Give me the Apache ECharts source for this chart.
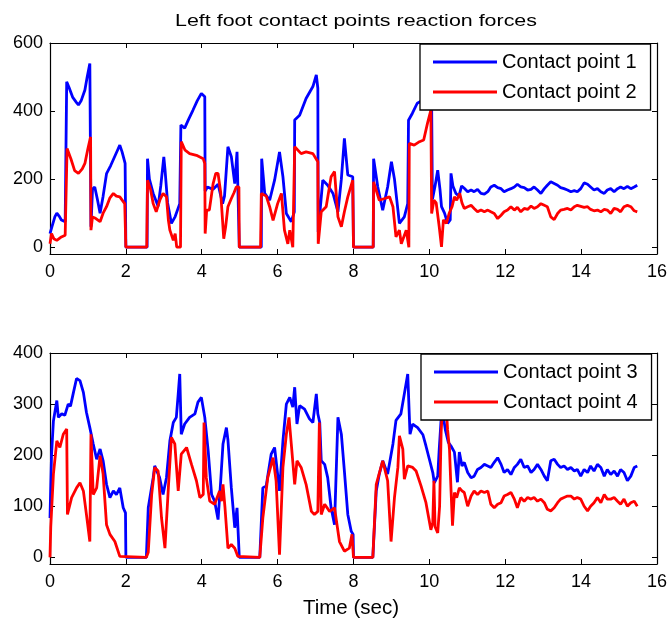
<!DOCTYPE html>
<html>
<head>
<meta charset="utf-8">
<script src="https://cdn.jsdelivr.net/npm/echarts@6/dist/echarts.min.js"></script>
<style>html,body{margin:0;padding:0;background:#fff}#c{width:670px;height:625px}</style>
</head>
<body>
<div id="c"></div>
<script>
// ---- data ----
const xTicks = [0, 2, 4, 6, 8, 10, 12, 14, 16];
const yTicksTop = [0, 200, 400, 600];
const yTicksBottom = [0, 100, 200, 300, 400];

const cp1Head = [[0,40],[0.05,60],[0.13,90],[0.18,100],[0.25,90],[0.3,80],[0.4,75],[0.43,70],[0.44,486],[0.5,470],[0.6,440],[0.7,425],[0.75,418],[0.82,430],[0.92,462],[0.98,500],[1.05,540],[1.07,540],[1.08,60],[1.12,170],[1.18,177],[1.25,140],[1.32,100],[1.4,150],[1.49,216],[1.6,240],[1.7,265],[1.8,290],[1.84,300],[1.9,280],[1.98,246],[2.0,0],[2.56,0],[2.57,260],[2.62,200],[2.72,158],[2.85,120],[2.92,180],[3.0,265],[3.03,230],[3.1,130],[3.2,70],[3.3,90],[3.42,128],[3.44,128],[3.45,359],[3.55,350],[3.65,375],[3.77,403],[3.88,430],[3.99,452],[4.08,442],[4.09,165],[4.15,177],[4.3,170],[4.43,185],[4.55,128],[4.6,150],[4.69,295],[4.78,266],[4.87,187],[4.93,280],[4.98,280],[4.99,0],[5.57,0],[5.58,260],[5.66,158],[5.79,138],[5.92,197],[6.05,280],[6.14,207],[6.23,99],[6.36,75],[6.44,104],[6.45,374],[6.58,388],[6.75,437],[6.93,472],[7.02,506],[7.06,467],[7.07,45],[7.19,197],[7.32,182],[7.46,158],[7.59,104],[7.68,200],[7.76,320],[7.85,212],[7.98,207],[8.0,0],[8.52,0],[8.53,260],[8.64,177],[8.77,109],[8.9,177],[9.0,251],[9.08,200],[9.21,70],[9.34,89],[9.43,128],[9.45,373],[9.55,393],[9.68,423],[9.8,430],[9.95,430],[10.06,420],[10.08,140],[10.15,180],[10.22,226],[10.28,170],[10.32,119],[10.4,100],[10.48,70],[10.55,80],[10.57,217],[10.62,180],[10.7,158],[10.78,150],[10.85,180]];

const cp2Head = [[0,10],[0.04,40],[0.1,25],[0.18,20],[0.3,30],[0.4,35],[0.44,40],[0.45,290],[0.55,260],[0.65,225],[0.75,217],[0.85,230],[0.92,246],[1.0,290],[1.07,324],[1.08,50],[1.12,89],[1.2,85],[1.32,75],[1.4,100],[1.49,119],[1.58,145],[1.67,158],[1.75,150],[1.84,148],[1.97,128],[1.99,128],[2.0,0],[2.55,0],[2.57,197],[2.65,170],[2.72,128],[2.8,104],[2.9,140],[2.98,158],[3.07,148],[3.12,80],[3.16,50],[3.25,20],[3.3,40],[3.34,0],[3.44,0],[3.46,310],[3.56,285],[3.68,275],[3.86,270],[4.04,260],[4.08,246],[4.09,40],[4.13,109],[4.2,109],[4.3,187],[4.37,217],[4.43,217],[4.5,160],[4.58,25],[4.63,60],[4.69,119],[4.78,143],[4.85,160],[4.91,177],[4.98,177],[4.99,0],[5.55,0],[5.57,158],[5.7,150],[5.79,119],[5.88,79],[6.0,128],[6.1,158],[6.18,50],[6.27,10],[6.32,50],[6.4,0],[6.44,0],[6.45,295],[6.62,275],[6.75,280],[6.93,275],[7.06,251],[7.07,10],[7.15,104],[7.28,119],[7.41,207],[7.5,222],[7.59,89],[7.68,60],[7.76,104],[7.85,148],[7.98,197],[8.0,0],[8.52,0],[8.53,192],[8.68,138],[8.82,143],[8.95,148],[9.04,119],[9.12,30],[9.21,50],[9.26,10],[9.39,50],[9.46,0],[9.47,305],[9.6,300],[9.74,310],[9.85,315],[9.95,364],[10.04,403],[10.06,99],[10.12,138],[10.18,130],[10.26,60],[10.32,1],[10.37,80],[10.45,70],[10.52,99],[10.6,120],[10.66,148],[10.72,138],[10.8,158],[10.86,130]];

const cp3Head = [[0,77],[0.04,200],[0.09,267],[0.18,307],[0.22,274],[0.31,281],[0.39,278],[0.48,300],[0.54,296],[0.61,320],[0.7,350],[0.79,346],[0.88,323],[0.96,284],[1.05,254],[1.14,222],[1.23,192],[1.32,212],[1.4,189],[1.49,143],[1.58,117],[1.67,130],[1.75,123],[1.84,136],[1.93,97],[1.99,87],[2.0,0],[2.54,0],[2.59,97],[2.72,156],[2.76,179],[2.89,156],[2.98,123],[3.07,156],[3.16,228],[3.25,264],[3.33,274],[3.38,320],[3.42,359],[3.46,241],[3.55,261],[3.68,274],[3.82,281],[3.9,304],[3.99,313],[4.08,274],[4.17,208],[4.26,123],[4.34,110],[4.43,74],[4.5,150],[4.56,222],[4.65,254],[4.69,230],[4.78,136],[4.87,58],[4.93,97],[4.98,97],[4.99,0],[5.53,0],[5.61,136],[5.7,140],[5.83,202],[5.92,215],[6.05,130],[6.14,228],[6.23,300],[6.32,313],[6.4,294],[6.45,333],[6.51,261],[6.58,297],[6.71,290],[6.84,271],[6.93,264],[7.02,320],[7.06,281],[7.11,264],[7.15,189],[7.24,182],[7.32,156],[7.41,97],[7.5,64],[7.59,274],[7.68,241],[7.76,169],[7.85,84],[7.94,51],[7.99,45],[8.0,0],[8.51,0],[8.6,130],[8.68,163],[8.77,189],[8.9,163],[9.04,222],[9.12,268],[9.25,281],[9.34,320],[9.43,359],[9.49,241],[9.56,261],[9.69,254],[9.74,251],[9.83,240],[9.91,218],[10.0,192],[10.09,166],[10.13,146],[10.22,159],[10.26,212],[10.31,270],[10.36,280],[10.42,250],[10.5,225],[10.57,218],[10.66,206],[10.74,147],[10.79,206],[10.86,179]];

const cp4Head = [[0,0],[0.02,60],[0.09,163],[0.18,228],[0.26,215],[0.35,241],[0.44,251],[0.46,84],[0.57,117],[0.7,136],[0.79,146],[0.88,130],[0.96,84],[1.05,31],[1.07,31],[1.08,241],[1.14,123],[1.23,136],[1.32,199],[1.4,163],[1.49,64],[1.58,45],[1.71,31],[1.84,2],[1.86,0],[2.54,0],[2.59,10],[2.68,123],[2.76,176],[2.85,169],[2.94,77],[3.03,18],[3.12,136],[3.2,235],[3.29,222],[3.38,130],[3.46,202],[3.6,215],[3.73,182],[3.86,150],[3.95,117],[4.04,123],[4.06,264],[4.12,156],[4.21,110],[4.34,104],[4.47,130],[4.52,110],[4.56,143],[4.61,100],[4.69,18],[4.78,25],[4.87,18],[4.95,2],[4.99,0],[5.53,0],[5.61,77],[5.74,156],[5.88,195],[5.96,150],[6.05,5],[6.14,176],[6.23,241],[6.3,274],[6.36,222],[6.45,143],[6.51,189],[6.62,176],[6.75,143],[6.89,90],[6.97,84],[7.06,90],[7.1,264],[7.15,84],[7.24,104],[7.37,90],[7.5,97],[7.63,31],[7.76,12],[7.89,18],[7.96,45],[8.0,0],[8.51,0],[8.6,143],[8.77,189],[8.9,150],[8.99,31],[9.08,117],[9.17,176],[9.21,238],[9.3,212],[9.34,153],[9.43,179],[9.56,176],[9.65,169],[9.78,140],[9.91,107],[10.04,54],[10.09,68],[10.12,150],[10.15,60],[10.22,48],[10.27,100],[10.31,245],[10.35,300],[10.44,300],[10.48,250],[10.53,212],[10.57,133],[10.61,62],[10.66,127],[10.72,117],[10.79,136],[10.86,130]];

// steady-state part (shared time samples)
const tTail = [10.92,11.01,11.10,11.18,11.27,11.36,11.45,11.54,11.62,11.71,11.80,11.89,11.97,12.06,12.15,12.24,12.32,12.41,12.50,12.59,12.68,12.76,12.85,12.94,13.03,13.11,13.20,13.29,13.38,13.46,13.55,13.64,13.73,13.82,13.90,13.99,14.08,14.17,14.25,14.34,14.43,14.52,14.61,14.69,14.78,14.87,14.96,15.04,15.13,15.22,15.31,15.40,15.48];
const cp1Tail = [173,163,168,163,170,158,156,163,177,182,175,172,163,168,172,177,185,177,175,168,170,177,168,158,172,182,192,187,182,175,172,168,163,166,163,172,189,185,177,168,172,163,158,168,172,163,172,177,172,179,172,177,182];
const cp2Tail = [114,119,123,114,104,109,104,109,104,99,84,94,104,109,119,109,117,104,114,111,121,114,119,128,123,119,89,81,99,109,111,114,109,119,123,120,117,119,111,107,109,104,111,109,99,114,111,104,119,123,119,107,104];
const cp3Tail = [186,166,156,159,172,176,182,179,176,186,195,182,166,172,162,176,182,192,176,179,166,172,182,172,159,150,189,192,182,176,179,172,176,169,172,159,172,166,179,169,182,176,159,172,162,169,159,172,166,150,159,176,179];
const cp4Tail = [127,100,120,130,123,130,127,130,104,97,104,107,120,123,127,114,97,117,110,117,114,117,110,114,107,94,91,97,107,114,117,120,120,114,117,114,100,91,100,107,117,107,123,114,114,117,110,104,114,100,107,110,100];

const names = ['Contact point 1', 'Contact point 2', 'Contact point 3', 'Contact point 4'];
const titleText = 'Left foot contact points reaction forces';
const xLabelText = 'Time (sec)';

// ---- build ----
function join(head, tail) { return head.concat(tTail.map((t, i) => [t, tail[i]])); }
const F = '"Liberation Sans", Arial, Helvetica, sans-serif';
const lineCol = '#000';

function xAx(grid, pos, showLabel) {
  return {
    type: 'value', gridIndex: grid, position: pos, min: 0, max: 16, interval: 2,
    axisLine: { show: true, onZero: false, lineStyle: { color: lineCol, width: 1.2 } },
    axisTick: { show: true, inside: true, length: 5, lineStyle: { color: lineCol, width: 1 } },
    axisLabel: { show: showLabel, color: '#000', fontSize: 18, fontFamily: F, margin: 9,
      formatter: v => xTicks.includes(v) ? String(v) : '' },
    splitLine: { show: false }
  };
}
function yAx(grid, pos, showLabel, min, max, ticks) {
  return {
    type: 'value', gridIndex: grid, position: pos, min: min, max: max,
    axisLine: { show: true, onZero: false, lineStyle: { color: lineCol, width: 1.2 } },
    axisTick: { show: true, inside: true, length: 5, customValues: ticks, lineStyle: { color: lineCol, width: 1 } },
    axisLabel: { show: showLabel, color: '#000', fontSize: 18, fontFamily: F, margin: 7, customValues: ticks },
    splitLine: { show: false }
  };
}
function legend(items, left, top) {
  return {
    data: items, orient: 'vertical', left: left, top: top,
    icon: 'rect', itemWidth: 64, itemHeight: 3, itemGap: 8, itemTextGap: 7,
    padding: [7, 14, 7, 13],
    borderColor: '#000', borderWidth: 1.3, backgroundColor: '#fff',
    textStyle: { color: '#000', fontSize: 20, lineHeight: 22, fontFamily: F },
    selectedMode: false
  };
}
function ser(name, xi, yi, data, color) {
  return {
    name: name, type: 'line', xAxisIndex: xi, yAxisIndex: yi, data: data,
    showSymbol: false, symbol: 'none', color: color,
    lineStyle: { color: color, width: 2.8 }, silent: true, z: 2
  };
}
function label(text, x, y, size, sx) {
  return {
    type: 'text', x: x, y: y, scaleX: sx, silent: true, z: 10,
    style: { text: text, fill: '#000', fontSize: size, fontFamily: F,
      align: 'center', verticalAlign: 'middle', textAlign: 'center', textVerticalAlign: 'middle' }
  };
}

const chart = echarts.init(document.getElementById('c'), null, { renderer: 'canvas' });
chart.setOption({
  animation: false,
  backgroundColor: '#fff',
  grid: [
    { left: 50, top: 43, width: 608, height: 211 },
    { left: 50, top: 353, width: 608, height: 211 }
  ],
  xAxis: [
    xAx(0, 'bottom', true),
    xAx(1, 'bottom', true),
    xAx(0, 'top', false),
    xAx(1, 'top', false)
  ],
  yAxis: [
    yAx(0, 'left', true, -20, 600, yTicksTop),
    yAx(1, 'left', true, -13, 400, yTicksBottom),
    yAx(0, 'right', false, -20, 600, yTicksTop),
    yAx(1, 'right', false, -13, 400, yTicksBottom)
  ],
  legend: [
    legend([names[0], names[1]], 420, 44),
    legend([names[2], names[3]], 421, 354)
  ],
  graphic: [
    label(titleText, 356, 21, 17, 1.26),
    label(xLabelText, 351, 608, 20.5, 1)
  ],
  series: [
    ser(names[0], 0, 0, join(cp1Head, cp1Tail), '#0000ff'),
    ser(names[1], 0, 0, join(cp2Head, cp2Tail), '#ff0000'),
    ser(names[2], 1, 1, join(cp3Head, cp3Tail), '#0000ff'),
    ser(names[3], 1, 1, join(cp4Head, cp4Tail), '#ff0000')
  ]
});
</script>
</body>
</html>
